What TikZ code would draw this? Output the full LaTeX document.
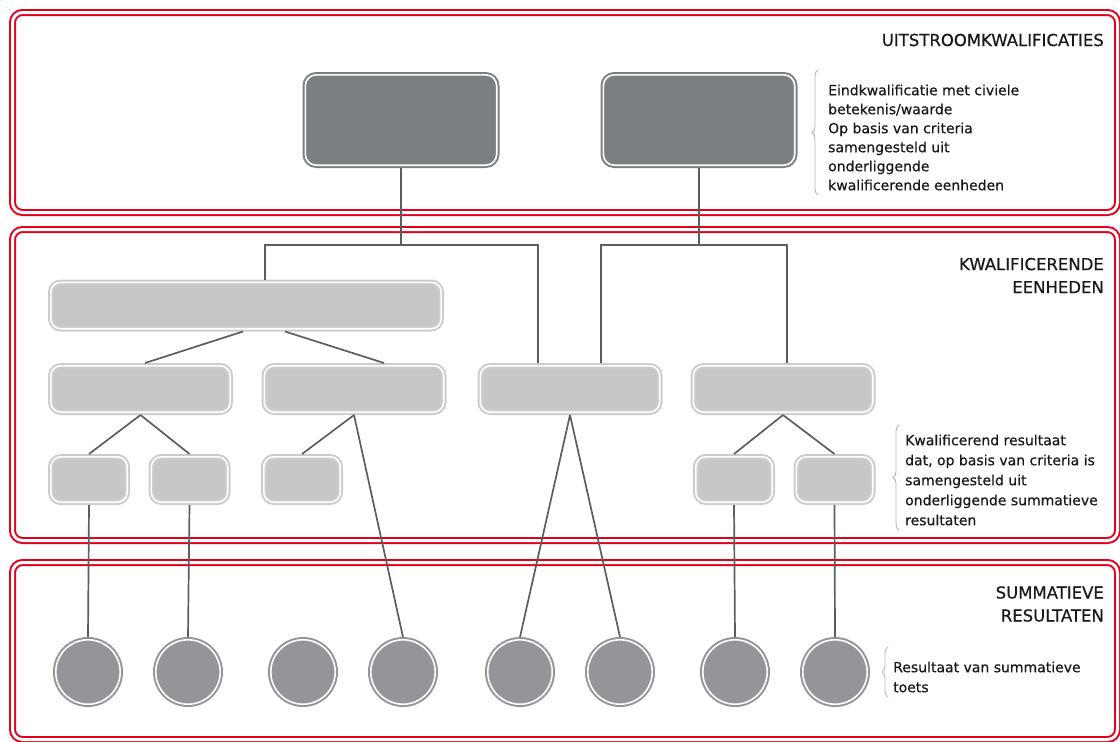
\documentclass[tikz,border=0pt]{standalone}
\usepackage{fontspec}
\setmainfont{DejaVu Sans}
\newfontfamily\halfvet{DejaVu Sans}[FakeBold=0.6]
\usepackage{tikz}
\usetikzlibrary{decorations.pathreplacing}

\definecolor{kader}{HTML}{E2001A}
\definecolor{donker}{HTML}{7C7F82}
\definecolor{rondje}{HTML}{939598}
\definecolor{licht}{HTML}{C6C7C9}
\definecolor{lichtrand}{HTML}{CBCCCE}
\definecolor{lijngrijs}{HTML}{5C5D5F}
\definecolor{accgrijs}{HTML}{B3B4B6}

\begin{document}
\begin{tikzpicture}[x=1pt,
            y=-1pt,
            laag/.style={rectangle, draw=kader, double=white, line width=2pt,
                         double distance=3pt, rounded corners=10pt,
                         minimum width=1105, inner sep=0pt},
            eind/.style={rectangle, fill=donker, draw=donker, double=white,
                         line width=2pt, double distance=1.6pt, rounded corners=11pt,
                         minimum width=191.4, minimum height=90.4, inner sep=0pt, outer sep=2.8pt},
            eenheid/.style={rectangle, fill=licht, draw=lichtrand, double=white,
                         line width=2pt, double distance=1.6pt, rounded corners=10pt,
                         minimum height=46.4, inner sep=0pt, outer sep=2.8pt},
            toets/.style={circle, fill=rondje, draw=rondje, double=white,
                         line width=2pt, double distance=1.6pt,
                         minimum size=64.4, inner sep=0pt, outer sep=2.8pt},
            lijn/.style={draw=lijngrijs, line width=1.7pt},
            kop/.style={anchor=east, align=right, inner sep=0pt,
                        font=\halfvet\fontsize{16.5}{23}\selectfont, text=black!90},
            uitleg/.style={anchor=west, align=left, inner sep=0pt,
                        font=\halfvet\fontsize{14}{19}\selectfont, text=black!90},
            accolade/.style={draw=accgrijs, line width=0.9pt, decorate,
                        decoration={brace, amplitude=6pt}}]

        \useasboundingbox (0,0) rectangle (1120,742);

        % drie lagen
        \node[laag, minimum height=200] (laag1) at (565,112.5) {};
        \node[laag, minimum height=311] (laag2) at (565,385)   {};
        \node[laag, minimum height=177] (laag3) at (565,651)   {};

        \node[kop] (kop1) at (1104,40)    {UITSTROOMKWALIFICATIES};
        \node[kop] (kop2) at (1104,275.5) {KWALIFICERENDE\\EENHEDEN};
        \node[kop] (kop3) at (1104,604)   {SUMMATIEVE\\RESULTATEN};

        % uitstroomkwalificaties
        \node[eind] (e1) at (401,120) {};
        \node[eind] (e2) at (699,120) {};

        % kwalificerende eenheden
        \node[eenheid, minimum width=390.4] (groot) at (246,305.5) {};
        \node[eenheid, minimum width=179.4] (k1) at (140.5,389) {};
        \node[eenheid, minimum width=179.4] (k2) at (354,389)   {};
        \node[eenheid, minimum width=179.4] (k3) at (570,389)   {};
        \node[eenheid, minimum width=179.4] (k4) at (783,389)   {};

        \node[eenheid, minimum width=76.4, minimum height=45.4] (d1) at (89,479.5)    {};
        \node[eenheid, minimum width=76.4, minimum height=45.4] (d2) at (189.5,479.5) {};
        \node[eenheid, minimum width=76.4, minimum height=45.4] (d3) at (302,479.5)   {};
        \node[eenheid, minimum width=76.4, minimum height=45.4] (d4) at (734,479.5)   {};
        \node[eenheid, minimum width=76.4, minimum height=45.4] (d5) at (834.5,479.5) {};

        % summatieve resultaten
        \node[toets] (t1) at (88,672)  {};
        \node[toets] (t2) at (188,672) {};
        \node[toets] (t3) at (303,672) {};
        \node[toets] (t4) at (403,672) {};
        \node[toets] (t5) at (520,672) {};
        \node[toets] (t6) at (620,672) {};
        \node[toets] (t7) at (735,672) {};
        \node[toets] (t8) at (835,672) {};

        % verbindingen
        \coordinate (knik1) at (265,245);
        \coordinate (knik2) at (538,245);
        \coordinate (knik3) at (601,245);
        \coordinate (knik4) at (787,245);

        \draw[lijn] (e1.south) -- (e1.south |- knik1);
        \draw[lijn] (groot.north -| knik1) |- (knik2) -- (k3.north -| knik2);
        \draw[lijn] (e2.south) -- (e2.south |- knik3);
        \draw[lijn] (k3.north -| knik3) |- (knik4) -- (k4.north -| knik4);

        \draw[lijn] ([xshift=-3pt]groot.south) -- ([xshift=4.5pt]k1.north);
        \draw[lijn] ([xshift=39pt]groot.south) -- ([xshift=30pt]k2.north);

        \draw[lijn] (k1.south) -- (d1.north);
        \draw[lijn] (k1.south) -- (d2.north);
        \draw[lijn] (k2.south) -- (d3.north);
        \draw[lijn] (k2.south) -- (t4.north);
        \draw[lijn] (k3.south) -- (t5.north);
        \draw[lijn] (k3.south) -- (t6.north);
        \draw[lijn] (k4.south) -- (d4.north);
        \draw[lijn] (k4.south) -- (d5.north);

        \draw[lijn] (d1.south) -- (t1.north);
        \draw[lijn] (d2.south) -- (t2.north);
        \draw[lijn] (d4.south) -- (t7.north);
        \draw[lijn] (d5.south) -- (t8.north);

        % toelichting
        \node[uitleg] (u1) at (828,137.5) {Eindkwalificatie met civiele\\betekenis/waarde\\Op basis van criteria\\samengesteld uit\\onderliggende\\kwalificerende eenheden};
        \node[uitleg, font=\halfvet\fontsize{14}{20}\selectfont] (u2) at (905,480) {Kwalificerend resultaat\\dat, op basis van criteria is\\samengesteld uit\\onderliggende summatieve\\resultaten};
        \node[uitleg, font=\halfvet\fontsize{14}{20}\selectfont] (u3) at (893,677) {Resultaat van summatieve\\toets};

        \draw[accolade] (818,195) -- (818,70);
        \draw[accolade] (899,530) -- (899,425);
        \draw[accolade] (888,697) -- (888,647);

    \end{tikzpicture}
\end{document}
